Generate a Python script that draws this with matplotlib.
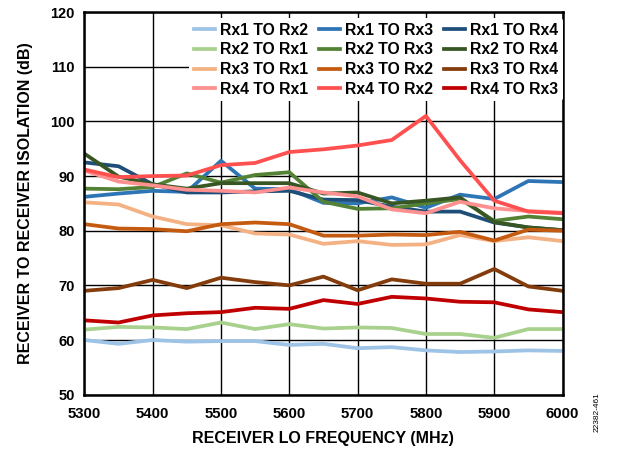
import matplotlib
matplotlib.use("Agg")
import matplotlib.pyplot as plt

plt.rcParams["font.family"] = ["Liberation Sans", "DejaVu Sans"]
plt.rcParams["font.weight"] = "bold"

freq = [5300, 5350, 5400, 5450, 5500, 5550, 5600, 5650, 5700, 5750, 5800, 5850, 5900, 5950, 6000]

rx1_rx2 = [60.0, 59.3, 60.0, 59.7, 59.8, 59.8, 59.1, 59.3, 58.5, 58.7, 58.1, 57.8, 57.9, 58.1, 58.0]
rx1_rx3 = [86.2, 86.8, 87.3, 87.1, 92.8, 87.7, 87.6, 85.1, 85.0, 86.1, 84.2, 86.6, 85.8, 89.1, 88.9]
rx1_rx4 = [92.5, 91.8, 88.5, 87.0, 87.0, 87.2, 87.3, 85.7, 85.6, 84.4, 83.5, 83.5, 81.5, 80.6, 80.1]
rx2_rx1 = [61.9, 62.4, 62.3, 62.0, 63.2, 62.0, 62.9, 62.1, 62.3, 62.2, 61.1, 61.1, 60.4, 62.0, 62.0]
rx2_rx3 = [87.7, 87.6, 88.0, 90.5, 88.8, 90.2, 90.7, 85.3, 84.0, 84.1, 85.0, 85.8, 81.8, 82.6, 82.1]
rx2_rx4 = [94.1, 89.9, 88.5, 87.7, 88.7, 88.7, 88.7, 86.8, 87.0, 85.0, 85.5, 86.1, 81.6, 80.6, 80.1]
rx3_rx1 = [85.2, 84.8, 82.6, 81.2, 81.0, 79.5, 79.3, 77.6, 78.1, 77.4, 77.5, 79.2, 78.1, 78.8, 78.1]
rx3_rx2 = [81.2, 80.4, 80.3, 79.9, 81.2, 81.5, 81.2, 79.1, 79.1, 79.3, 79.2, 79.8, 78.2, 80.2, 80.0]
rx3_rx4 = [69.0, 69.5, 71.0, 69.5, 71.4, 70.6, 70.0, 71.6, 69.1, 71.1, 70.3, 70.3, 73.0, 69.8, 69.0]
rx4_rx1 = [91.0, 89.0, 88.3, 87.5, 87.3, 87.0, 87.9, 87.0, 86.3, 83.9, 83.2, 85.3, 84.1, 83.6, 83.3]
rx4_rx2 = [91.2, 89.8, 90.0, 90.1, 92.0, 92.4, 94.4, 94.9, 95.6, 96.6, 101.0, 92.9, 85.5, 83.5, 83.2]
rx4_rx3 = [63.6, 63.2, 64.5, 64.9, 65.1, 65.9, 65.7, 67.3, 66.6, 67.9, 67.6, 67.0, 66.9, 65.6, 65.1]

series = [
    ("Rx1 TO Rx2", rx1_rx2, "#9DC3E6"),
    ("Rx1 TO Rx3", rx1_rx3, "#2E75B6"),
    ("Rx1 TO Rx4", rx1_rx4, "#1F4E79"),
    ("Rx2 TO Rx1", rx2_rx1, "#A9D18E"),
    ("Rx2 TO Rx3", rx2_rx3, "#548235"),
    ("Rx2 TO Rx4", rx2_rx4, "#375623"),
    ("Rx3 TO Rx1", rx3_rx1, "#F4B183"),
    ("Rx3 TO Rx2", rx3_rx2, "#C55A11"),
    ("Rx3 TO Rx4", rx3_rx4, "#843C0C"),
    ("Rx4 TO Rx1", rx4_rx1, "#FF9090"),
    ("Rx4 TO Rx2", rx4_rx2, "#FF5050"),
    ("Rx4 TO Rx3", rx4_rx3, "#C00000"),
]

fig = plt.figure(figsize=(6.25, 4.5), dpi=100)
ax = fig.add_axes([0.135, 0.123, 0.765, 0.85])

lines = {}
for name, vals, col in series:
    lines[name], = ax.plot(freq, vals, color=col, linewidth=2.7, label=name)

ax.set_xlim(5300, 6000)
ax.set_ylim(50, 120)
ax.set_xticks(range(5300, 6001, 100))
ax.set_yticks(range(50, 121, 10))
ax.grid(True, color="black", linewidth=1.0)
ax.set_axisbelow(True)
ax.tick_params(axis="x", length=0, labelsize=10.8, pad=9)
ax.tick_params(axis="y", length=0, labelsize=10.5, pad=7)
for lbl in ax.get_xticklabels() + ax.get_yticklabels():
    lbl.set_fontweight("bold")
for sp in ax.spines.values():
    sp.set_linewidth(1.8)

ax.set_xlabel("RECEIVER LO FREQUENCY (MHz)", fontsize=11.5, fontweight="bold", labelpad=7)
ax.set_ylabel("RECEIVER TO RECEIVER ISOLATION (dB)", fontsize=11.5, fontweight="bold", labelpad=12)

# legend fills row by row in the reference
order = ["Rx1 TO Rx2", "Rx2 TO Rx1", "Rx3 TO Rx1", "Rx4 TO Rx1",
         "Rx1 TO Rx3", "Rx2 TO Rx3", "Rx3 TO Rx2", "Rx4 TO Rx2",
         "Rx1 TO Rx4", "Rx2 TO Rx4", "Rx3 TO Rx4", "Rx4 TO Rx3"]
leg = ax.legend([lines[n] for n in order], order, ncol=3, loc="upper right",
                bbox_to_anchor=(1.0, 0.985), fontsize=11.3, frameon=True,
                framealpha=1, edgecolor="none", facecolor="white",
                handlelength=1.35, handletextpad=0.3, columnspacing=0.7,
                labelspacing=0.3, borderpad=0.3, borderaxespad=0.0)
for t in leg.get_texts():
    t.set_fontweight("bold")

fig.text(0.955, 0.04, "22382-461", rotation=90, fontsize=6, fontweight="normal",
         ha="center", va="bottom")

fig.savefig("out.png", dpi=100)
